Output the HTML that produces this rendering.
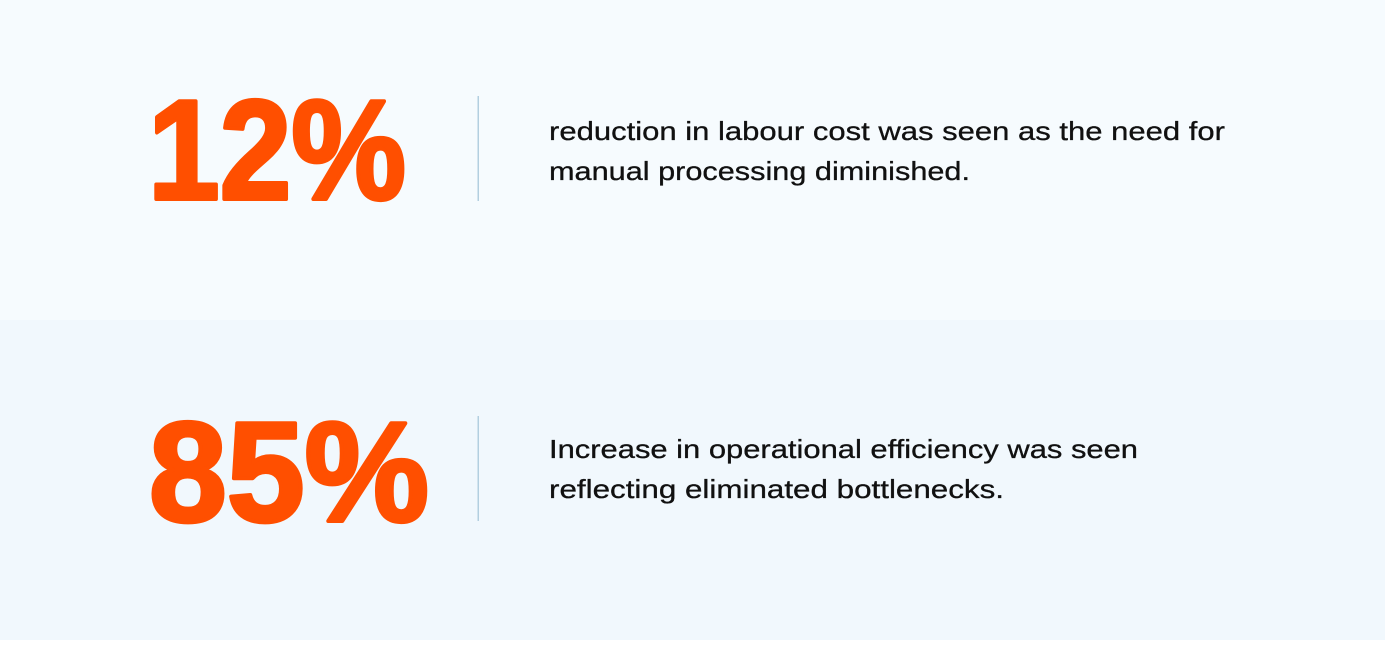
<!DOCTYPE html>
<html><head><meta charset="utf-8"><style>
html,body{margin:0;padding:0;}
body{width:1385px;height:640px;overflow:hidden;}
</style></head><body>
<svg width="1385" height="640" xmlns="http://www.w3.org/2000/svg">
<rect x="0" y="0" width="1385" height="320" fill="#f6fbfe"/>
<rect x="0" y="320" width="1385" height="320" fill="#f1f8fd"/>
<g font-family="Liberation Sans, Arial, sans-serif" font-weight="bold" fill="#ff4f00" stroke="#ff4f00" stroke-width="4" stroke-linejoin="round" font-size="142">
<text x="148" y="199" textLength="258" lengthAdjust="spacingAndGlyphs">12%</text>
<text x="149" y="521" textLength="280" lengthAdjust="spacingAndGlyphs">85%</text>
</g>
<rect x="477.5" y="96" width="1.5" height="105" fill="#b3cfe0"/>
<rect x="477.5" y="416" width="1.5" height="105" fill="#b3cfe0"/>
<g font-family="Liberation Sans, Arial, sans-serif" fill="#111" stroke="#111" stroke-width="0.3" font-size="26">
<text x="549" y="140" textLength="676" lengthAdjust="spacingAndGlyphs">reduction in labour cost was seen as the need for</text>
<text x="549" y="180" textLength="421" lengthAdjust="spacingAndGlyphs">manual processing diminished.</text>
<text x="549" y="458" textLength="589" lengthAdjust="spacingAndGlyphs">Increase in operational efficiency was seen</text>
<text x="549" y="498" textLength="455" lengthAdjust="spacingAndGlyphs">reflecting eliminated bottlenecks.</text>
</g>
</svg>
</body></html>
